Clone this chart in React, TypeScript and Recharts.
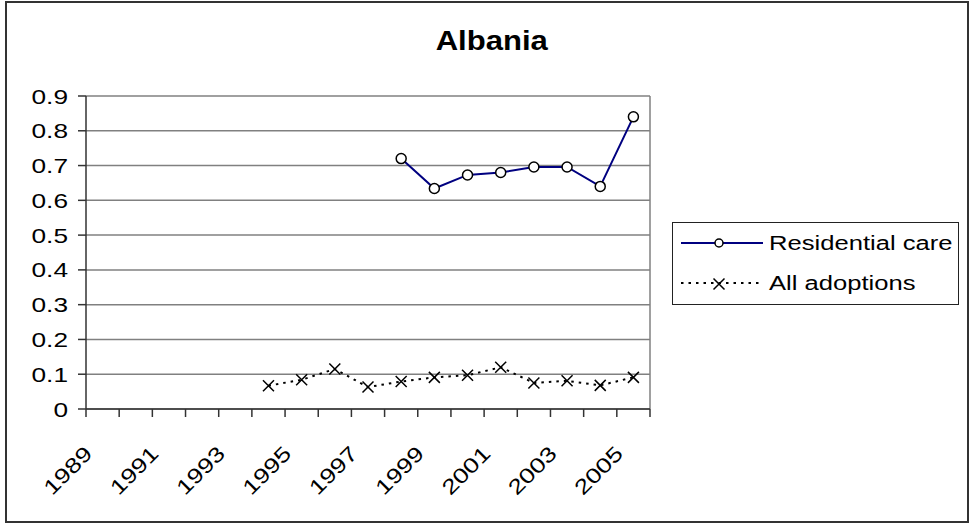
import {
  CartesianGrid,
  Legend,
  Line,
  LineChart,
  ReferenceLine,
  XAxis,
  YAxis,
} from "recharts";

const years = [
  1989, 1990, 1991, 1992, 1993, 1994, 1995, 1996, 1997, 1998, 1999, 2000, 2001,
  2002, 2003, 2004, 2005,
];
const residentialCare = [
  null, null, null, null, null, null, null, null, null,
  0.72, 0.634, 0.673, 0.68, 0.696, 0.696, 0.64, 0.84,
];
const allAdoptions = [
  null, null, null, null, null,
  0.067, 0.084, 0.115, 0.063, 0.079, 0.091, 0.097, 0.12, 0.075, 0.081, 0.068, 0.091,
];
const labelYears = [1989, 1991, 1993, 1995, 1997, 1999, 2001, 2003, 2005];
const yTicks = [0, 0.1, 0.2, 0.3, 0.4, 0.5, 0.6, 0.7, 0.8, 0.9];
const seriesNames = ["Residential care", "All adoptions"];

const font = "'Liberation Sans', Arial, sans-serif";

// one row per year that has a value, placed in the middle of its category
const toRows = (values: (number | null)[]) =>
  values
    .map((v, i) => (v == null ? null : { x: i + 0.5, year: years[i], value: v }))
    .filter(Boolean);

const residentialRows = toRows(residentialCare);
const adoptionRows = toRows(allAdoptions);
// tick marks sit between categories, like Excel
const boundaryTicks = [...years.map((_, i) => i), years.length];

function CircleDot({ cx, cy }: any) {
  if (cx == null || cy == null) return <g />;
  return <circle cx={cx} cy={cy} r={5} fill="#fff" stroke="#000" strokeWidth={1.5} />;
}

function CrossDot({ cx, cy }: any) {
  if (cx == null || cy == null) return <g />;
  const s = 5.5;
  return (
    <path
      d={`M${cx - s},${cy - s}L${cx + s},${cy + s}M${cx - s},${cy + s}L${cx + s},${cy - s}`}
      stroke="#000"
      strokeWidth={1.5}
      fill="none"
    />
  );
}

function YTick({ x, y, payload }: any) {
  return (
    <g transform={`translate(${x},${y})`}>
      <text
        transform="scale(1.25,1)"
        textAnchor="end"
        dy="0.36em"
        fontSize={21}
        fontFamily={font}
        fill="#000"
      >
        {String(payload.value)}
      </text>
    </g>
  );
}

function XTick({ x, y, width, payload }: any) {
  const idx = payload.value;
  const year = years[idx];
  if (year == null || !labelYears.includes(year)) return <g />;
  const half = (Number(width) || 564) / years.length / 2;
  return (
    <g transform={`translate(${x + half - 9},${y + 38}) rotate(-45)`}>
      <text
        transform="scale(1.25,1)"
        textAnchor="end"
        fontSize={21}
        fontFamily={font}
        fill="#000"
      >
        {year}
      </text>
    </g>
  );
}

function LegendBox({ payload }: any) {
  const items = [...(payload ?? [])].sort(
    (a: any, b: any) => seriesNames.indexOf(a.value) - seriesNames.indexOf(b.value)
  );
  return (
    <svg width={287} height={83} style={{ display: "block" }}>
      <rect x={0.5} y={0.5} width={286} height={82} fill="#fff" stroke="#222" />
      {items.map((entry: any, i: number) => {
        const cy = 21 + i * 40;
        const dashed = entry.payload?.strokeDasharray;
        return (
          <g key={entry.value}>
            <line
              x1={9}
              x2={91}
              y1={cy}
              y2={cy}
              stroke={entry.color}
              strokeWidth={2}
              strokeDasharray={dashed}
            />
            {dashed ? (
              <CrossDot cx={47} cy={cy + 1} />
            ) : (
              <circle cx={47} cy={cy} r={4} fill="#fff" stroke="#000" strokeWidth={1.5} />
            )}
            <g transform={`translate(97,${cy})`}>
              <text
                transform="scale(1.28,1)"
                dy="0.36em"
                fontSize={20}
                fontFamily={font}
                fill="#000"
              >
                {entry.value}
              </text>
            </g>
          </g>
        );
      })}
    </svg>
  );
}

export default function App() {
  return (
    <div
      style={{
        position: "absolute",
        left: 0,
        top: 0,
        width: 971,
        height: 523,
        background: "#fff",
        fontFamily: font,
      }}
    >
      <div
        style={{
          position: "absolute",
          left: 5,
          top: 1,
          width: 964,
          height: 522,
          boxSizing: "border-box",
          border: "2px solid #333",
        }}
      />
      <div
        style={{
          position: "absolute",
          left: 392,
          top: 28,
          width: 200,
          textAlign: "center",
          fontSize: 27,
          lineHeight: "27px",
          fontWeight: "bold",
        }}
      >
        <span style={{ display: "inline-block", transform: "scaleX(1.15)" }}>
          Albania
        </span>
      </div>
      <div style={{ position: "absolute", left: 0, top: 0 }}>
        <LineChart
          width={971}
          height={523}
          margin={{ top: 96, right: 321, bottom: 46, left: 26 }}
        >
          <CartesianGrid
            vertical={false}
            stroke="#808080"
            strokeWidth={1.5}
          />
          <XAxis
            type="number"
            dataKey="x"
            domain={[0, years.length]}
            allowDataOverflow
            ticks={boundaryTicks}
            interval={0}
            tick={<XTick />}
            tickSize={8}
            tickMargin={0}
            height={68}
            axisLine={{ stroke: "#333", strokeWidth: 1.5 }}
            tickLine={{ stroke: "#333", strokeWidth: 1.5 }}
          />
          <YAxis
            type="number"
            domain={[0, 0.9]}
            ticks={yTicks}
            interval={0}
            width={60}
            tickSize={8}
            tickMargin={10}
            axisLine={{ stroke: "#333", strokeWidth: 1.5 }}
            tickLine={{ stroke: "#333", strokeWidth: 1.5 }}
            tick={<YTick />}
          />
          <ReferenceLine x={years.length} stroke="#808080" strokeWidth={1.5} />
          <Line
            data={residentialRows}
            dataKey="value"
            name="Residential care"
            stroke="#000080"
            strokeWidth={2}
            dot={<CircleDot />}
            activeDot={false}
            isAnimationActive={false}
          />
          <Line
            data={adoptionRows}
            dataKey="value"
            name="All adoptions"
            stroke="#000"
            strokeWidth={2}
            strokeDasharray="2.5 5"
            dot={<CrossDot />}
            activeDot={false}
            isAnimationActive={false}
          />
          <Legend
            layout="vertical"
            align="center"
            verticalAlign="middle"
            wrapperStyle={{ left: 672, top: 222, width: 287, height: 83 }}
            content={<LegendBox />}
          />
        </LineChart>
      </div>
    </div>
  );
}
